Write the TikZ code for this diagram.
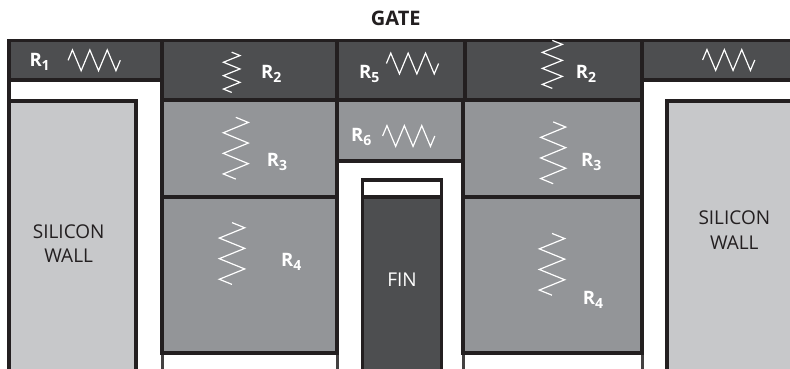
\documentclass[tikz,border=0pt]{standalone}
\usepackage{fontspec}
\setmainfont{Open Sans}
\usepackage{xcolor}
\usetikzlibrary{positioning}
\definecolor{edgeblack}{HTML}{231F20}
\definecolor{gatedark}{HTML}{4D4E50}
\definecolor{gatemid}{HTML}{939598}
\definecolor{walllight}{HTML}{C7C8CA}
\newcommand{\resname}[1]{R\raisebox{-0.42ex}{\fontsize{14}{15}\selectfont #1}}
\tikzset{
  region/.style={draw=edgeblack, line width=3.4pt, line join=miter},
  dark/.style={region, fill=gatedark},
  mid/.style={region, fill=gatemid},
  wall/.style={region, fill=walllight},
  tail/.style={draw=edgeblack!85, line width=3pt},
  zig/.style={draw=white, line width=1.2pt, line join=miter},
  reslabel/.style={anchor=base west, text=white, inner sep=0pt,
    font=\fontsize{18.5}{20}\selectfont\bfseries},
  walltext/.style={anchor=base, text=edgeblack, inner sep=0pt,
    font=\fontsize{19}{20}\selectfont},
  pics/zigh/.style={code={
    \path[zig] (-3,0) -- (-2.5,-1) -- (-1.5,1) -- (-0.5,-1)
      -- (0.5,1) -- (1.5,-1) -- (2.5,1) -- (3,0);}},
  pics/zigv/.style={code={
    \path[zig] (0,-3) -- (1,-2.5) -- (-1,-1.5) -- (1,-0.5)
      -- (-1,0.5) -- (1,1.5) -- (-1,2.5) -- (0,3);}}
}
\begin{document}
\begin{tikzpicture}[x=1pt,y=-1pt]
    \useasboundingbox (0,0) rectangle (790,368);

    % ---------- silicon walls ----------
    \path[wall] (9,101) rectangle (136,380);
    \path[wall] (667,101) rectangle (800,380);
    \draw[region] (9,40.5) -- (9,380);

    % ---------- legs under the spacers ----------
    \draw[tail] (162,350) -- (162,380);
    \draw[tail] (337,350) -- (337,380);
    \draw[tail] (463,350) -- (463,380);
    \draw[tail] (642,350) -- (642,380);

    % ---------- spacer stacks ----------
    \path[mid] (162,100) rectangle (337,197);
    \path[mid] (162,197) rectangle (337,353);
    \path[mid] (463,100) rectangle (642,197);
    \path[mid] (463,197) rectangle (642,353);
    \path[mid] (337,100) rectangle (463,161);

    % ---------- gate row ----------
    \path[dark] (9,40.5) rectangle (162,80);
    \path[dark] (162,40.5) rectangle (337,100);
    \path[dark] (337,40.5) rectangle (465,100);
    \path[dark] (465,40.5) rectangle (642,100);
    \path[dark] (642,40.5) rectangle (800,80);

    % ---------- fin ----------
    \path[region, fill=white] (362.4,180) rectangle (441.3,197);
    \path[dark] (362.4,197) rectangle (441.3,380);

    % ---------- resistors ----------
    \pic[xscale=8.7, yscale=10.4] at (94.2,60.3) {zigh};
    \pic[xscale=8.7, yscale=10.4] at (412.5,63.5) {zigh};
    \pic[xscale=8.7, yscale=10.4] at (408.7,136) {zigh};
    \pic[xscale=8.7, yscale=10.4] at (728.7,60) {zigh};
    \pic[xscale=8.3, yscale=6.7] at (231.7,72.3) {zigv};
    \pic[xscale=10, yscale=8] at (552.3,64.4) {zigv};
    \pic[xscale=12.5, yscale=10.3] at (235.8,148.2) {zigv};
    \pic[xscale=12.5, yscale=10.3] at (553.2,152.8) {zigv};
    \pic[xscale=12.7, yscale=10.3] at (232,253.5) {zigv};
    \pic[xscale=12.7, yscale=10.3] at (552,264.3) {zigv};

    % ---------- labels ----------
    \node[anchor=base, inner sep=0pt, text=edgeblack,
      font=\fontsize{20}{22}\selectfont\bfseries] (gatelabel) at (395.7,25) {GATE};
    \node[reslabel] (r1) at (29.3,66.7) {\resname{1}};
    \node[reslabel] (r2a) at (261,78) {\resname{2}};
    \node[reslabel] (r5) at (359,78) {\resname{5}};
    \node[reslabel] (r2b) at (575.7,78) {\resname{2}};
    \node[reslabel] (r6) at (351,141.7) {\resname{6}};
    \node[reslabel] (r3a) at (266.7,166.7) {\resname{3}};
    \node[reslabel] (r3b) at (581,166.7) {\resname{3}};
    \node[reslabel] (r4a) at (281,266.7) {\resname{4}};
    \node[reslabel] (r4b) at (582.7,304) {\resname{4}};

    \node[walltext] (walla) at (68.7,238) {SILICON};
    \node[walltext] (wallb) at (68.7,262.7) {WALL};
    \node[walltext] (wallc) at (734.3,224) {SILICON};
    \node[walltext] (walld) at (734.3,249.3) {WALL};
    \node[walltext, text=white] (finlabel) at (402,286.7) {FIN};

\end{tikzpicture}
\end{document}
